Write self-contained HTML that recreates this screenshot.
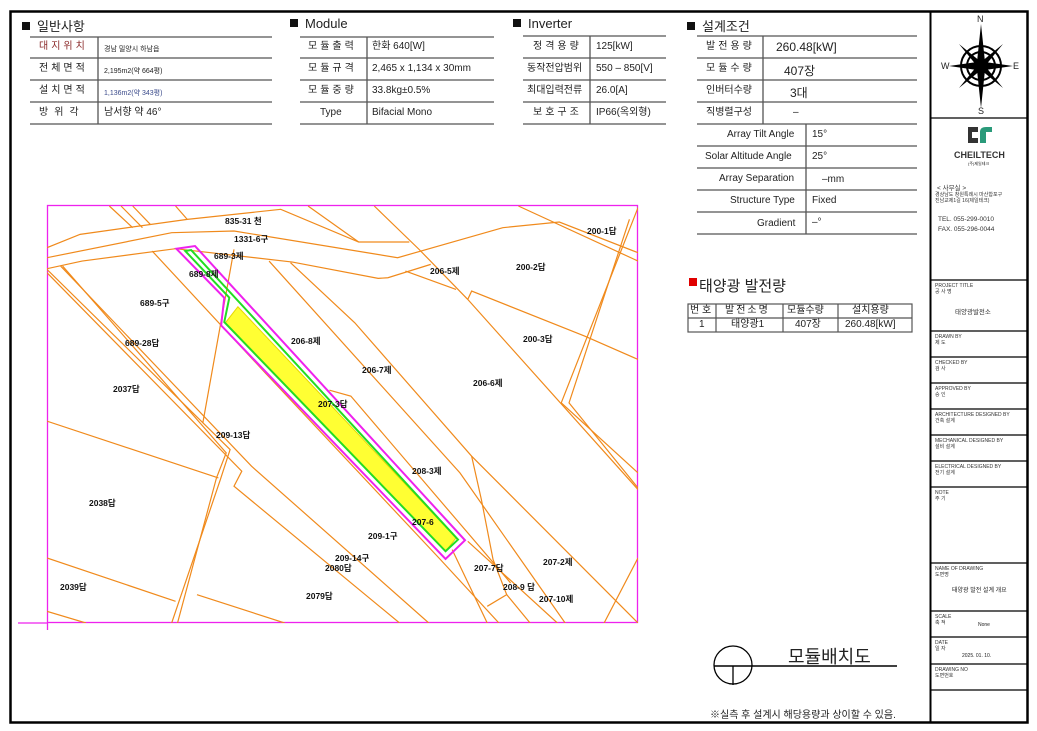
<!DOCTYPE html>
<html><head><meta charset="utf-8"><style>
body{margin:0;width:1037px;height:731px;background:#fff;position:relative;overflow:hidden;font-family:"Liberation Sans","Noto Sans CJK KR",sans-serif;color:#222}
.a{position:absolute;white-space:nowrap}
.h{font-size:13px}
.sq{display:inline-block;width:8px;height:8px;background:#111;margin-right:7px;vertical-align:1px}
.t{font-size:10px;line-height:1}
.ml{font-size:8.5px;font-weight:bold;color:#111}
.rp{font-size:5px;color:#333;line-height:6px}
.rk{font-size:6.5px;color:#333}
</style></head><body>
<svg class="a" style="left:0;top:0" width="1037" height="731">
<rect x="10.5" y="11.5" width="1017" height="711" fill="none" stroke="#000" stroke-width="2.5"/>
<line x1="930.5" y1="11" x2="930.5" y2="722" stroke="#000" stroke-width="2"/>
<g stroke="#555" stroke-width="1.3">
<!-- general -->
<line x1="30" y1="37" x2="272" y2="37"/><line x1="30" y1="58" x2="272" y2="58"/><line x1="30" y1="80" x2="272" y2="80"/><line x1="30" y1="102" x2="272" y2="102"/><line x1="30" y1="124" x2="272" y2="124"/>
<line x1="98" y1="37" x2="98" y2="124"/>
<line x1="300" y1="37" x2="494" y2="37"/><line x1="300" y1="58" x2="494" y2="58"/><line x1="300" y1="80" x2="494" y2="80"/><line x1="300" y1="102" x2="494" y2="102"/><line x1="300" y1="124" x2="494" y2="124"/>
<line x1="367" y1="37" x2="367" y2="124"/>
<line x1="523" y1="36" x2="666" y2="36"/><line x1="523" y1="58" x2="666" y2="58"/><line x1="523" y1="80" x2="666" y2="80"/><line x1="523" y1="102" x2="666" y2="102"/><line x1="523" y1="124" x2="666" y2="124"/>
<line x1="590" y1="36" x2="590" y2="124"/>
<line x1="697" y1="36" x2="917" y2="36"/><line x1="697" y1="58" x2="917" y2="58"/><line x1="697" y1="80" x2="917" y2="80"/><line x1="697" y1="102" x2="917" y2="102"/><line x1="697" y1="124" x2="917" y2="124"/>
<line x1="697" y1="146" x2="917" y2="146"/><line x1="697" y1="168" x2="917" y2="168"/><line x1="697" y1="190" x2="917" y2="190"/><line x1="697" y1="212" x2="917" y2="212"/><line x1="697" y1="234" x2="917" y2="234"/>
<line x1="763" y1="36" x2="763" y2="124"/><line x1="806" y1="124" x2="806" y2="234"/>
</g>
<!-- right panel lines -->
<g stroke="#000" stroke-width="1.2">
<line x1="931" y1="118" x2="1027" y2="118"/><line x1="931" y1="280" x2="1027" y2="280"/><line x1="931" y1="331" x2="1027" y2="331"/><line x1="931" y1="357" x2="1027" y2="357"/><line x1="931" y1="383" x2="1027" y2="383"/><line x1="931" y1="409" x2="1027" y2="409"/><line x1="931" y1="435" x2="1027" y2="435"/><line x1="931" y1="461" x2="1027" y2="461"/><line x1="931" y1="487" x2="1027" y2="487"/><line x1="931" y1="563" x2="1027" y2="563"/><line x1="931" y1="611" x2="1027" y2="611"/><line x1="931" y1="637" x2="1027" y2="637"/><line x1="931" y1="664" x2="1027" y2="664"/><line x1="931" y1="690" x2="1027" y2="690"/>
</g>
<!-- compass -->
<g transform="translate(981,66)">
<circle r="20" fill="none" stroke="#000" stroke-width="2"/><circle r="14" fill="none" stroke="#000" stroke-width="2"/>
<polygon points="0,-42 4,-4 0,0 -4,-4" fill="#000"/><polygon points="0,42 4,4 0,0 -4,4" fill="#000"/>
<polygon points="-32,0 -4,-4 0,0 -4,4" fill="#000"/><polygon points="32,0 4,-4 0,0 4,4" fill="#000"/>
<polygon points="-22,-22 0,-4 0,0 -4,0" fill="#000"/><polygon points="22,-22 4,0 0,0 0,-4" fill="#000"/>
<polygon points="-22,22 -4,0 0,0 0,4" fill="#000"/><polygon points="22,22 0,4 0,0 4,0" fill="#000"/>
</g>
<!-- logo -->
<path d="M968 127 h10 v5 h-6 v6 h6 v5 h-10 z" fill="#333"/><path d="M980 132 q0-5 6-5 h6 v5 h-6 v11 h-6 z" fill="#2a9a7a"/>
<!-- solar table -->
<rect x="689" y="278" width="8" height="8" fill="#e00000"/>
<g stroke="#555" stroke-width="1.2" fill="none">
<rect x="688" y="304" width="224" height="28"/><line x1="688" y1="318" x2="912" y2="318"/>
<line x1="716" y1="304" x2="716" y2="332"/><line x1="783" y1="304" x2="783" y2="332"/><line x1="838" y1="304" x2="838" y2="332"/>
</g>
<!-- symbol -->
<circle cx="733" cy="665" r="19" fill="none" stroke="#000" stroke-width="1.3"/>
<line x1="714" y1="666" x2="897" y2="666" stroke="#000" stroke-width="1.5"/>
<line x1="733" y1="666" x2="733" y2="685" stroke="#000" stroke-width="1.3"/>
<!-- magenta frame -->
<g stroke="#ee22ee" stroke-width="1.3" fill="none">
<rect x="47.5" y="205.5" width="590" height="417"/>
<line x1="18" y1="623" x2="47" y2="623"/><line x1="47.5" y1="623" x2="47.5" y2="630"/>
</g>
</svg>
<svg class="a" style="left:47px;top:205px" width="591" height="418" viewBox="20 17 1517 1253" preserveAspectRatio="none">
<g fill="none" stroke="#f08a1c" stroke-width="1.2" vector-effect="non-scaling-stroke">
<polyline vector-effect="non-scaling-stroke" points="20,145 105,105 380,60 620,30 820,128 950,128"/>
<polyline vector-effect="non-scaling-stroke" points="20,175 340,100 500,95 920,175 1190,85 1335,68 1537,160"/>
<polyline vector-effect="non-scaling-stroke" points="20,208 110,185 350,148 650,188 870,237 895,235 1005,195"/>
<polyline vector-effect="non-scaling-stroke" points="1230,20 1537,185"/>
<polyline vector-effect="non-scaling-stroke" points="180,20 240,85"/><polyline vector-effect="non-scaling-stroke" points="210,20 265,85"/><polyline vector-effect="non-scaling-stroke" points="240,20 285,75"/><polyline vector-effect="non-scaling-stroke" points="350,20 380,60"/>
<polyline vector-effect="non-scaling-stroke" points="690,20 820,128"/>
<polyline vector-effect="non-scaling-stroke" points="20,210 490,750 465,840 340,1270"/>
<polyline vector-effect="non-scaling-stroke" points="60,200 480,760 455,835 355,1270"/>
<polyline vector-effect="non-scaling-stroke" points="20,220 520,815 500,860 925,1270"/>
<polyline vector-effect="non-scaling-stroke" points="55,200 545,800 1000,1270"/>
<polyline vector-effect="non-scaling-stroke" points="290,155 580,520 1030,1080 1180,1270"/>
<polyline vector-effect="non-scaling-stroke" points="645,190 810,370 1110,770 1537,1270"/>
<polyline vector-effect="non-scaling-stroke" points="860,20 975,150 1100,300 1537,870"/>
<polyline vector-effect="non-scaling-stroke" points="1100,300 1110,275 1400,410 1537,480"/>
<polyline vector-effect="non-scaling-stroke" points="1537,25 1340,610 1537,820"/>
<polyline vector-effect="non-scaling-stroke" points="1515,60 1360,610 1537,865"/>
<polyline vector-effect="non-scaling-stroke" points="20,665 460,835"/>
<polyline vector-effect="non-scaling-stroke" points="20,1075 350,1205"/>
<polyline vector-effect="non-scaling-stroke" points="405,1185 630,1270"/>
<polyline vector-effect="non-scaling-stroke" points="20,1235 120,1270"/>
<polyline vector-effect="non-scaling-stroke" points="500,150 420,670"/>
<polyline vector-effect="non-scaling-stroke" points="1110,770 1135,900 1165,1080 1200,1185 1150,1220"/>
<polyline vector-effect="non-scaling-stroke" points="1537,1075 1450,1270"/>
<polyline vector-effect="non-scaling-stroke" points="1100,1025 1330,1270"/>
<polyline vector-effect="non-scaling-stroke" points="1200,1185 1260,1270"/>
<polyline vector-effect="non-scaling-stroke" points="940,215 1070,270"/>
<polyline vector-effect="non-scaling-stroke" points="745,572 800,590 1210,1150"/>
<polyline vector-effect="non-scaling-stroke" points="590,185 1080,820 1350,1270"/>
<polyline vector-effect="non-scaling-stroke" points="1060,1050 1150,1270"/>
</g>
<polygon points="510,322 1070,1015 1043,1055 478,370" fill="#ffff33" stroke="#e6d800" stroke-width="1" vector-effect="non-scaling-stroke"/>
<polygon points="375,155 390,152 1075,1020 1043,1055 475,368 488,295" fill="none" stroke="#22dd22" stroke-width="2" vector-effect="non-scaling-stroke"/>
<polygon points="352,148 400,140 1093,1022 1043,1078 467,378 475,295" fill="none" stroke="#ee22ee" stroke-width="2" vector-effect="non-scaling-stroke"/>
</svg>
<!-- headings -->
<div class="a h" style="left:22px;top:16px"><span class="sq"></span>일반사항</div>
<div class="a h" style="left:290px;top:16px"><span class="sq"></span>Module</div>
<div class="a h" style="left:513px;top:16px"><span class="sq"></span>Inverter</div>
<div class="a h" style="left:687px;top:16px"><span class="sq"></span>설계조건</div>
<!-- general rows -->
<div class="a t" style="left:39px;top:42px;color:#8b2a2a;letter-spacing:3px">대지위치</div><div class="a" style="left:104px;top:44px;font-size:7px">경남 밀양시 하남읍</div>
<div class="a t" style="left:39px;top:64px;letter-spacing:3px">전체면적</div><div class="a" style="left:104px;top:66px;font-size:7px">2,195m2(약 664평)</div>
<div class="a t" style="left:39px;top:86px;letter-spacing:3px">설치면적</div><div class="a" style="left:104px;top:88px;font-size:7px;color:#3a4a8a">1,136m2(약 343평)</div>
<div class="a t" style="left:39px;top:108px;letter-spacing:6px">방위각</div><div class="a t" style="left:104px;top:108px">남서향 약 46°</div>
<div class="a t" style="left:308px;top:42px;letter-spacing:3px">모듈출력</div><div class="a t" style="left:372px;top:42px">한화 640[W]</div>
<div class="a t" style="left:308px;top:64px;letter-spacing:3px">모듈규격</div><div class="a t" style="left:372px;top:64px">2,465 x 1,134 x 30mm</div>
<div class="a t" style="left:308px;top:86px;letter-spacing:3px">모듈중량</div><div class="a t" style="left:372px;top:86px">33.8kg±0.5%</div>
<div class="a t" style="left:320px;top:108px">Type</div><div class="a t" style="left:372px;top:108px">Bifacial Mono</div>
<div class="a t" style="left:533px;top:42px;letter-spacing:3px">정격용량</div><div class="a t" style="left:596px;top:42px">125[kW]</div>
<div class="a t" style="left:527px;top:64px">동작전압범위</div><div class="a t" style="left:596px;top:64px">550 – 850[V]</div>
<div class="a t" style="left:527px;top:86px">최대입력전류</div><div class="a t" style="left:596px;top:86px">26.0[A]</div>
<div class="a t" style="left:533px;top:108px;letter-spacing:3px">보호구조</div><div class="a t" style="left:596px;top:108px">IP66(옥외형)</div>
<div class="a t" style="left:706px;top:42px;letter-spacing:3px">발전용량</div><div class="a" style="left:776px;top:40px;font-size:12px">260.48[kW]</div>
<div class="a t" style="left:706px;top:64px;letter-spacing:3px">모듈수량</div><div class="a" style="left:784px;top:62px;font-size:12px">407장</div>
<div class="a t" style="left:706px;top:86px">인버터수량</div><div class="a" style="left:790px;top:84px;font-size:12px">3대</div>
<div class="a t" style="left:706px;top:108px">직병렬구성</div><div class="a t" style="left:793px;top:108px">–</div>
<div class="a t" style="left:727px;top:130px">Array Tilt Angle</div><div class="a t" style="left:812px;top:130px">15°</div>
<div class="a t" style="left:705px;top:152px">Solar Altitude Angle</div><div class="a t" style="left:812px;top:152px">25°</div>
<div class="a t" style="left:719px;top:174px">Array Separation</div><div class="a t" style="left:822px;top:175px">–mm</div>
<div class="a t" style="left:730px;top:196px">Structure Type</div><div class="a t" style="left:812px;top:196px">Fixed</div>
<div class="a t" style="left:757px;top:219px">Gradient</div><div class="a t" style="left:812px;top:218px">–°</div>
<!-- solar -->
<div class="a" style="left:699px;top:275px;font-size:15px">태양광 발전량</div>
<div class="a t" style="left:690px;top:306px">번 호</div><div class="a t" style="left:725px;top:306px;letter-spacing:2px">발전소명</div><div class="a t" style="left:787px;top:306px">모듈수량</div><div class="a t" style="left:852px;top:306px">설치용량</div>
<div class="a t" style="left:699px;top:320px">1</div><div class="a t" style="left:731px;top:320px">태양광1</div><div class="a t" style="left:795px;top:320px">407장</div><div class="a t" style="left:845px;top:320px">260.48[kW]</div>
<!-- map labels -->
<div class="a ml" style="left:225px;top:215px">835-31 천</div>
<div class="a ml" style="left:234px;top:233px">1331-6구</div>
<div class="a ml" style="left:587px;top:225px">200-1답</div>
<div class="a ml" style="left:516px;top:261px">200-2답</div>
<div class="a ml" style="left:430px;top:265px">206-5제</div>
<div class="a ml" style="left:214px;top:250px">689-3제</div>
<div class="a ml" style="left:189px;top:268px">689-8제</div>
<div class="a ml" style="left:140px;top:297px">689-5구</div>
<div class="a ml" style="left:125px;top:337px">689-28답</div>
<div class="a ml" style="left:291px;top:335px">206-8제</div>
<div class="a ml" style="left:523px;top:333px">200-3답</div>
<div class="a ml" style="left:362px;top:364px">206-7제</div>
<div class="a ml" style="left:473px;top:377px">206-6제</div>
<div class="a ml" style="left:113px;top:383px">2037답</div>
<div class="a ml" style="left:318px;top:398px">207-3답</div>
<div class="a ml" style="left:216px;top:429px">209-13답</div>
<div class="a ml" style="left:412px;top:465px">208-3제</div>
<div class="a ml" style="left:89px;top:497px">2038답</div>
<div class="a ml" style="left:412px;top:517px">207-6</div>
<div class="a ml" style="left:368px;top:530px">209-1구</div>
<div class="a ml" style="left:335px;top:552px">209-14구</div>
<div class="a ml" style="left:325px;top:562px">2080답</div>
<div class="a ml" style="left:474px;top:562px">207-7답</div>
<div class="a ml" style="left:543px;top:556px">207-2제</div>
<div class="a ml" style="left:503px;top:581px">208-9 답</div>
<div class="a ml" style="left:539px;top:593px">207-10제</div>
<div class="a ml" style="left:60px;top:581px">2039답</div>
<div class="a ml" style="left:306px;top:590px">2079답</div>
<!-- symbol text -->
<div class="a" style="left:788px;top:643px;font-size:18px">모듈배치도</div>
<div class="a" style="left:710px;top:706px;font-size:10px">※실측 후 설계시 해당용량과 상이할 수 있음.</div>
<!-- right panel text -->
<div class="a" style="left:977px;top:14px;font-size:9px">N</div>
<div class="a" style="left:978px;top:106px;font-size:9px">S</div>
<div class="a" style="left:941px;top:61px;font-size:9px">W</div>
<div class="a" style="left:1013px;top:61px;font-size:9px">E</div>
<div class="a" style="left:954px;top:150px;font-size:9px;font-weight:bold;color:#333">CHEILTECH</div>
<div class="a" style="left:968px;top:161px;font-size:4px">(주)제일테크</div>
<div class="a rk" style="left:937px;top:182px">&lt; 사무실 &gt;</div>
<div class="a rp" style="left:935px;top:192px">경상남도 창원특례시 마산합포구<br>진남교제1길 16(제일테크)</div>
<div class="a rk" style="left:938px;top:216px">TEL. 055-299-0010</div>
<div class="a rk" style="left:938px;top:226px">FAX. 055-296-0044</div>
<div class="a rp" style="left:935px;top:283px">PROJECT TITLE<br>공 사 명</div>
<div class="a rk" style="left:955px;top:306px">태양광발전소</div>
<div class="a rp" style="left:935px;top:334px">DRAWN BY<br>제 도</div>
<div class="a rp" style="left:935px;top:360px">CHECKED BY<br>검 사</div>
<div class="a rp" style="left:935px;top:386px">APPROVED BY<br>승 인</div>
<div class="a rp" style="left:935px;top:412px">ARCHITECTURE DESIGNED BY<br>건축 설계</div>
<div class="a rp" style="left:935px;top:438px">MECHANICAL DESIGNED BY<br>설비 설계</div>
<div class="a rp" style="left:935px;top:464px">ELECTRICAL DESIGNED BY<br>전기 설계</div>
<div class="a rp" style="left:935px;top:490px">NOTE<br>주 기</div>
<div class="a rp" style="left:935px;top:566px">NAME OF DRAWING<br>도면명</div>
<div class="a" style="left:952px;top:585px;font-size:6px">태양광 발전 설계 개요</div>
<div class="a rp" style="left:935px;top:614px">SCALE<br>축 적</div>
<div class="a" style="left:978px;top:622px;font-size:5px">None</div>
<div class="a rp" style="left:935px;top:640px">DATE<br>일 자</div>
<div class="a" style="left:962px;top:653px;font-size:5px">2025. 01. 10.</div>
<div class="a rp" style="left:935px;top:667px">DRAWING NO<br>도면번호</div>
</body></html>
